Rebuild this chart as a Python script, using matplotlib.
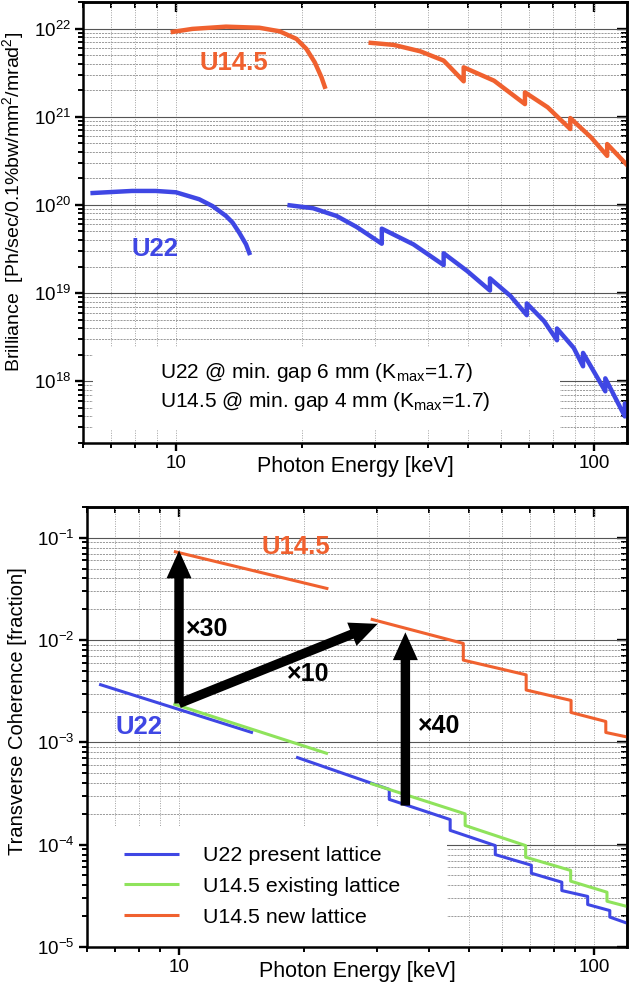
import matplotlib
matplotlib.use('Agg')
import matplotlib.pyplot as plt
from matplotlib import ticker
from matplotlib.patches import Rectangle

plt.rcParams['font.family'] = ['Liberation Sans', 'DejaVu Sans']
plt.rcParams['mathtext.fontset'] = 'custom'
plt.rcParams['mathtext.rm'] = 'Liberation Sans'
plt.rcParams['mathtext.it'] = 'Liberation Sans:italic'
plt.rcParams['mathtext.bf'] = 'Liberation Sans:bold'

# --- brilliance (top panel) ---
u22_h1_E = [6.24, 7.85, 8.94, 10.0, 11.36, 12.23, 13.17, 13.66, 14.17, 14.71, 15.04]
u22_h1_B = [1.36e20, 1.44e20, 1.44e20, 1.39e20, 1.16e20, 9.7e19, 7.5e19, 6.3e19, 4.84e19, 3.57e19, 2.7e19]
u22_hi_E = [18.7, 21.28, 24.22, 27.06, 31.08, 31.08, 37.0, 43.7, 43.7, 49.75, 56.4, 56.4,
            63.2, 69.1, 69.1, 76.0, 81.6, 81.6, 89.5, 94.2, 94.2, 106.5, 106.5, 118.6, 118.6, 120]
u22_hi_B = [9.9e19, 9.17e19, 7.5e19, 5.62e19, 3.63e19, 5.38e19, 3.57e19, 2.08e19, 2.83e19, 1.78e19,
            1.07e19, 1.47e19, 9.25e18, 5.62e18, 7.64e18, 4.81e18, 2.92e18, 3.97e18, 2.39e18, 1.48e18,
            2.1e18, 7.7e17, 1.08e18, 4.0e17, 5.6e17, 5.3e17]
u145_h1_E = [9.71, 10.94, 13.17, 15.84, 17.69, 19.41, 20.51, 21.48, 22.29, 22.79]
u145_h1_B = [9.08e21, 9.9e21, 1.05e22, 1.02e22, 9.3e21, 7.64e21, 5.88e21, 4.14e21, 2.8e21, 2.07e21]
u145_hi_E = [29.24, 33.2, 38.4, 43.7, 48.8, 48.8, 57.7, 68.4, 68.4, 77.5, 87.8, 87.8,
             98.5, 107.6, 107.6, 120.6]
u145_hi_B = [6.88e21, 6.52e21, 5.52e21, 4.33e21, 2.52e21, 3.63e21, 2.56e21, 1.39e21, 1.89e21,
             1.28e21, 7.25e20, 9.66e20, 5.82e20, 3.6e20, 4.9e20, 2.77e20]

# --- transverse coherence (bottom panel) ---
c_u22_h1_E = [6.42, 15.07]
c_u22_h1 = [3.7e-3, 1.24e-3]
c_u22_hi_E = [19.3, 32.1, 32.1, 45.0, 45.0, 57.8, 57.8, 70.6, 70.6, 83.6, 83.6, 96.5, 96.5,
              109.1, 109.1, 120]
c_u22_hi = [7.1e-4, 3.47e-4, 2.77e-4, 1.76e-4, 1.38e-4, 9.8e-5, 8.0e-5, 6.3e-5, 5.26e-5,
            4.3e-5, 3.56e-5, 3.12e-5, 2.6e-5, 2.27e-5, 1.96e-5, 1.71e-5]
c_old_h1_E = [9.69, 22.85]
c_old_h1 = [2.38e-3, 7.74e-4]
c_old_hi_E = [29.1, 48.9, 48.9, 68.4, 68.4, 87.8, 87.8, 107.4, 107.4, 120]
c_old_hi = [3.94e-4, 2.0e-4, 1.54e-4, 9.8e-5, 7.55e-5, 5.6e-5, 4.4e-5, 3.43e-5, 2.8e-5, 2.49e-5]
c_new_h1_E = [9.72, 22.9]
c_new_h1 = [7.35e-2, 3.17e-2]
c_new_hi_E = [29.2, 48.4, 48.4, 68.6, 68.6, 88.0, 88.0, 106.7, 106.7, 120]
c_new_hi = [1.59e-2, 9.27e-3, 6.37e-3, 4.57e-3, 3.25e-3, 2.57e-3, 1.96e-3, 1.6e-3, 1.25e-3, 1.13e-3]

legend_labels = ['U22 present lattice', 'U14.5 existing lattice', 'U14.5 new lattice']

BLUE = '#3f47e4'
GREEN = '#8fe35c'
ORANGE = '#f0612f'


def style_axes(ax):
    ax.set_xscale('log')
    ax.set_yscale('log')
    ax.set_xlim(6, 120)
    ax.xaxis.set_major_formatter(ticker.FuncFormatter(lambda v, p: f'{v:g}'))
    ax.xaxis.set_minor_formatter(ticker.NullFormatter())
    ax.yaxis.set_minor_locator(ticker.LogLocator(subs=range(2, 10), numticks=30))
    ax.yaxis.set_minor_formatter(ticker.NullFormatter())
    ax.tick_params(which='both', direction='out', labelsize=13.5, pad=3)
    ax.tick_params(which='major', length=6, width=1.7)
    ax.tick_params(which='minor', length=3.8, width=1.4)
    for s in ax.spines.values():
        s.set_linewidth(1.8)
    ax.set_axisbelow(True)
    ax.grid(True, which='major', axis='y', color='#555555', lw=0.8, ls='-')
    ax.grid(True, which='minor', axis='y', color='#8a8a8a', lw=0.6, ls=(0, (2.5, 1.2)))
    ax.grid(True, which='both', axis='x', color='#a0a0a0', lw=0.7, ls=(0, (1, 1.5)))
    # inward ticks on top and right
    ident = (lambda v: v, lambda v: v)
    top = ax.secondary_xaxis('top', functions=ident)
    right = ax.secondary_yaxis('right', functions=ident)
    right.yaxis.set_minor_locator(ticker.LogLocator(subs=range(2, 10), numticks=30))
    for sec, axis in ((top, top.xaxis), (right, right.yaxis)):
        axis.set_major_formatter(ticker.NullFormatter())
        axis.set_minor_formatter(ticker.NullFormatter())
        sec.tick_params(which='both', direction='in')
        sec.tick_params(which='major', length=7, width=1.7)
        sec.tick_params(which='minor', length=4.3, width=1.4)
        for s in sec.spines.values():
            s.set_linewidth(1.8)


fig = plt.figure(figsize=(6.3, 9.85), dpi=100)
ax1 = fig.add_axes([0.1322, 0.5503, 0.863, 0.4477])
ax2 = fig.add_axes([0.138, 0.0386, 0.8572, 0.4467])

# ---------------- top panel ----------------
style_axes(ax1)
ax1.set_ylim(2e17, 2e22)
ax1.plot(u22_h1_E, u22_h1_B, color=BLUE, lw=3.2, solid_capstyle='butt', zorder=2)
ax1.plot(u22_hi_E, u22_hi_B, color=BLUE, lw=3.2, zorder=2)
ax1.plot(u145_h1_E, u145_h1_B, color=ORANGE, lw=3.2, solid_capstyle='butt', zorder=2)
ax1.plot(u145_hi_E, u145_hi_B, color=ORANGE, lw=3.2, zorder=2)

ax1.text(11.4, 4.1e21, 'U14.5', color=ORANGE, fontsize=18.5, fontweight='bold',
         ha='left', va='center')
ax1.text(7.83, 3.16e19, 'U22', color=BLUE, fontsize=18.5, fontweight='bold',
         ha='left', va='center')

ax1.add_patch(Rectangle((0.018, 0.03), 0.859, 0.188, transform=ax1.transAxes,
                        facecolor='white', edgecolor='none', zorder=1))
ax1.text(0.141, 0.159, 'U22 @ min. gap 6 mm (K$_{\\mathrm{max}}$=1.7)', transform=ax1.transAxes,
         fontsize=15, ha='left', va='center', zorder=3)
ax1.text(0.141, 0.093, 'U14.5 @ min. gap 4 mm (K$_{\\mathrm{max}}$=1.7)', transform=ax1.transAxes,
         fontsize=15, ha='left', va='center', zorder=3)

ax1.set_xlabel('Photon Energy [keV]', fontsize=15.5)
ax1.xaxis.set_label_coords(0.5, -0.054)
ax1.xaxis.label.set_va('center')
ax1.set_ylabel('Brilliance  [Ph/sec/0.1%bw/mm$^2$/mrad$^2$]', fontsize=14)
ax1.yaxis.set_label_coords(-0.129, 0.546)
ax1.yaxis.label.set_va('center')

# ---------------- bottom panel ----------------
style_axes(ax2)
ax2.set_ylim(1e-5, 0.2)
l1, = ax2.plot(c_u22_h1_E, c_u22_h1, color=BLUE, lw=2.2, solid_capstyle='butt', zorder=2)
ax2.plot(c_u22_hi_E, c_u22_hi, color=BLUE, lw=2.2, zorder=2)
l2, = ax2.plot(c_old_h1_E, c_old_h1, color=GREEN, lw=2.2, solid_capstyle='butt', zorder=2.1)
ax2.plot(c_old_hi_E, c_old_hi, color=GREEN, lw=2.2, zorder=2.1)
l3, = ax2.plot(c_new_h1_E, c_new_h1, color=ORANGE, lw=2.2, solid_capstyle='butt', zorder=2.2)
ax2.plot(c_new_hi_E, c_new_hi, color=ORANGE, lw=2.2, zorder=2.2)

arrow_kw = dict(facecolor='black', edgecolor='none', width=6.8, headwidth=18,
                headlength=20, shrink=0.0)
ax2.annotate('', xy=(10.0, 7.5e-2), xytext=(10.0, 2.4e-3), arrowprops=arrow_kw, zorder=3)
ax2.annotate('', xy=(30.1, 1.44e-2), xytext=(10.0, 2.4e-3), arrowprops=arrow_kw, zorder=3)
ax2.annotate('', xy=(35.1, 1.19e-2), xytext=(35.1, 2.41e-4), arrowprops=arrow_kw, zorder=3)

ax2.text(10.4, 1.27e-2, '×30', fontsize=18, fontweight='bold', ha='left', va='center')
ax2.text(18.15, 4.69e-3, '×10', fontsize=18, fontweight='bold', ha='left', va='center')
ax2.text(37.6, 1.46e-3, '×40', fontsize=18, fontweight='bold', ha='left', va='center')
ax2.text(15.8, 8.2e-2, 'U14.5', color=ORANGE, fontsize=18.5, fontweight='bold',
         ha='left', va='center')
ax2.text(7.02, 1.4e-3, 'U22', color=BLUE, fontsize=18.5, fontweight='bold',
         ha='left', va='center')

ax2.add_patch(Rectangle((0.0, 0.0), 0.667, 0.273, transform=ax2.transAxes,
                        facecolor='white', edgecolor='none', zorder=1))
ax2.legend([l1, l2, l3], legend_labels, loc='upper left', bbox_to_anchor=(0.068, 0.229),
           frameon=False, fontsize=15.4, handlelength=2.6, handletextpad=1.1,
           labelspacing=0.55, borderpad=0, borderaxespad=0)

ax2.set_xlabel('Photon Energy [keV]', fontsize=15.5)
ax2.xaxis.set_label_coords(0.5, -0.055)
ax2.xaxis.label.set_va('center')
ax2.set_ylabel('Transverse Coherence [fraction]', fontsize=14.5)
ax2.yaxis.set_label_coords(-0.128, 0.537)
ax2.yaxis.label.set_va('center')

fig.savefig('out.png', dpi=100)
